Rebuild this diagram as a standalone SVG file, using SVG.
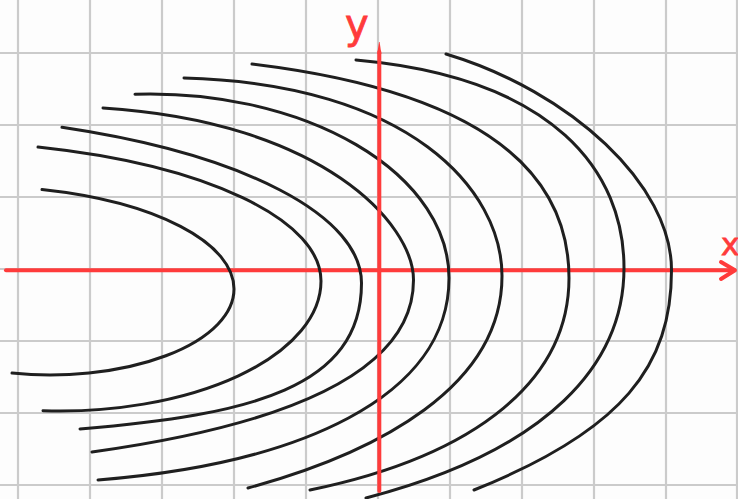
<svg xmlns="http://www.w3.org/2000/svg" width="738" height="499" viewBox="0 0 738 499">
<style>
.grid line{stroke:#cbcbcb;stroke-width:2.2}
.axis{stroke:#ff3b3b;stroke-width:4;fill:none;stroke-linecap:round;stroke-linejoin:round}
.curve{stroke:#1f1f1f;stroke-width:3;fill:none;stroke-linecap:round;stroke-linejoin:round}
.lbl{fill:#ff3b3b;stroke:#ff3b3b;stroke-width:0.8;font-family:"DejaVu Sans","Liberation Sans",sans-serif}
</style>
<rect width="738" height="499" fill="#fdfdfd"/>
<g id="grid" class="grid">
<line x1="18" y1="0" x2="18" y2="499"/>
<line x1="90" y1="0" x2="90" y2="499"/>
<line x1="162" y1="0" x2="162" y2="499"/>
<line x1="234" y1="0" x2="234" y2="499"/>
<line x1="306" y1="0" x2="306" y2="499"/>
<line x1="378" y1="0" x2="378" y2="499"/>
<line x1="450" y1="0" x2="450" y2="499"/>
<line x1="522" y1="0" x2="522" y2="499"/>
<line x1="594" y1="0" x2="594" y2="499"/>
<line x1="666" y1="0" x2="666" y2="499"/>
<line x1="737" y1="0" x2="737" y2="499"/>
<line x1="0" y1="53" x2="738" y2="53"/>
<line x1="0" y1="125" x2="738" y2="125"/>
<line x1="0" y1="197" x2="738" y2="197"/>
<line x1="0" y1="269" x2="738" y2="269"/>
<line x1="0" y1="341" x2="738" y2="341"/>
<line x1="0" y1="413" x2="738" y2="413"/>
<line x1="0" y1="485" x2="738" y2="485"/>
</g>
<g id="x-axis">
<path class="axis" d="M6,270.3 L733,270.3"/>
<path class="axis" d="M721,262 L735,270.3 L721,279"/>
<text class="lbl" x="721" y="255" font-size="31">x</text>
</g>
<g id="curves">
<path id="curve-1" class="curve" d="M42,189.6 A260,103 0 0 1 234,289 A184,86 0 0 1 12,373.1"/>
<path id="curve-2" class="curve" d="M38,147.1 A400,140 0 0 1 321,281 A261,130 0 0 1 43,410.7"/>
<path id="curve-3" class="curve" d="M62,127.3 A500,170 0 0 1 361.5,283 C361.5,388 250,415 80,429"/>
<path id="curve-4" class="curve" d="M103,108 C323,122 413.5,224 413.5,280 C413.5,378 272,427 92,452"/>
<path id="curve-5" class="curve" d="M135,94.2 A299,184 0 0 1 449,278 C449,398 298,464 98,480"/>
<path id="curve-6" class="curve" d="M184,78 C410,84 502,190 502,276 C502,386 380,452 248,488"/>
<path id="curve-7" class="curve" d="M252,64 C492,93 569,178 569,278 C569,378 480,455 310,490"/>
<path id="curve-8" class="curve" d="M356,60 C556,78 624,173 624,268 C624,363 550,450 366,498"/>
<path id="curve-9" class="curve" d="M446,54 C571,91.5 671.5,185 671.5,270 C671.5,365 624,430 474,490"/>
</g>
<g id="y-axis">
<path class="axis" d="M379.3,52 L379.3,491"/>
<polygon points="379,42 377.2,54 381.4,54 379.6,42" fill="#ff3b3b"/>
<text class="lbl" x="345" y="38" font-size="40">y</text>
</g>
</svg>
